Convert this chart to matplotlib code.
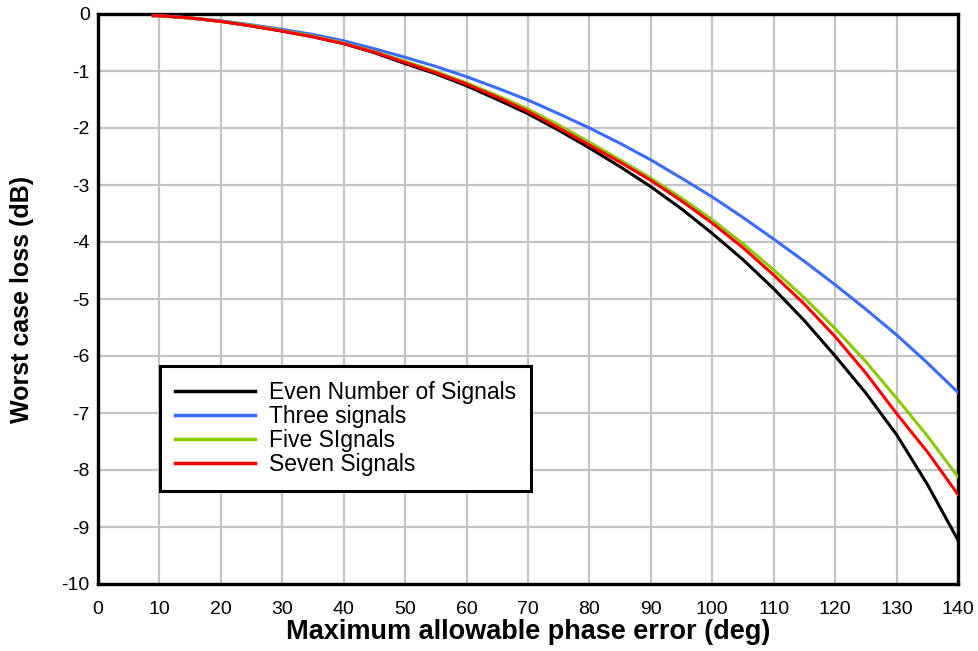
import matplotlib
matplotlib.use("Agg")
import matplotlib.pyplot as plt

phase_deg = [9, 10, 15, 20, 25, 30, 35, 40, 45, 50, 55, 60, 65, 70, 75, 80, 85, 90, 95,
             100, 105, 110, 115, 120, 125, 130, 135, 140]
even_loss = [-0.03, -0.03, -0.07, -0.13, -0.21, -0.30, -0.40, -0.52, -0.68, -0.87, -1.05, -1.26, -1.50, -1.75, -2.04, -2.35, -2.68, -3.03, -3.42,
             -3.85, -4.31, -4.82, -5.38, -6.00, -6.65, -7.38, -8.25, -9.23]
three_loss = [-0.02, -0.03, -0.07, -0.12, -0.19, -0.27, -0.36, -0.47, -0.61, -0.76, -0.92, -1.10, -1.30, -1.51, -1.75, -2.00, -2.27, -2.56, -2.88,
              -3.21, -3.57, -3.95, -4.34, -4.75, -5.18, -5.63, -6.12, -6.64]
five_loss = [-0.03, -0.03, -0.07, -0.13, -0.20, -0.29, -0.39, -0.51, -0.66, -0.83, -1.01, -1.21, -1.43, -1.67, -1.95, -2.25, -2.56, -2.88, -3.23,
             -3.61, -4.03, -4.49, -4.98, -5.52, -6.10, -6.74, -7.40, -8.12]
seven_loss = [-0.03, -0.03, -0.07, -0.13, -0.21, -0.30, -0.40, -0.52, -0.67, -0.85, -1.03, -1.23, -1.46, -1.71, -2.00, -2.30, -2.60, -2.92, -3.28,
              -3.67, -4.10, -4.58, -5.09, -5.66, -6.30, -7.01, -7.68, -8.43]

series_labels = ["Even Number of Signals", "Three signals", "Five SIgnals", "Seven Signals"]
series_colors = ["#000000", "#3a6dff", "#8cc800", "#ff0000"]

x_ticks = list(range(0, 141, 10))
y_ticks = list(range(-10, 1, 1))

plt.rcParams['font.family'] = ['Liberation Sans', 'DejaVu Sans']

fig = plt.figure(figsize=(9.79, 6.51), dpi=100)
ax = fig.add_axes([98/979, 1 - 584/651, 860/979, 570/651])

for ys, lab, col in zip([even_loss, three_loss, five_loss, seven_loss], series_labels, series_colors):
    ax.plot(phase_deg, ys, color=col, lw=2.2, label=lab, zorder=3, solid_joinstyle='round')

ax.set_xlim(0, 140)
ax.set_ylim(-10, 0)
ax.set_xticks(x_ticks)
ax.set_yticks(y_ticks)
ax.set_xticklabels([str(v) for v in x_ticks], fontsize=14)
ax.set_yticklabels([str(v) for v in y_ticks], fontsize=14)
ax.tick_params(axis='x', length=0, pad=12)
ax.tick_params(axis='y', length=0, pad=6)
ax.grid(True, color="#c4c4c4", lw=1.6, zorder=0)
ax.set_axisbelow(True)
for s in ax.spines.values():
    s.set_linewidth(2.4)
    s.set_color("black")

ax.set_xlabel("Maximum allowable phase error (deg)", fontsize=19.5, fontweight="bold", labelpad=1)
ax.set_ylabel("Worst case loss (dB)", fontsize=18, fontweight="bold")
ax.yaxis.set_label_coords(-0.074, 0.5)

leg = ax.legend(loc="lower left", bbox_to_anchor=(0.072, 0.163), borderaxespad=0,
                fancybox=False, edgecolor="black", framealpha=1, fontsize=16.5,
                handlelength=3.5, handletextpad=0.6, borderpad=0.65, labelspacing=0.05,
                handleheight=0.7)
leg.get_frame().set_linewidth(2.2)
for h in leg.get_lines():
    h.set_linewidth(2.5)

fig.savefig("out.png", dpi=100)
